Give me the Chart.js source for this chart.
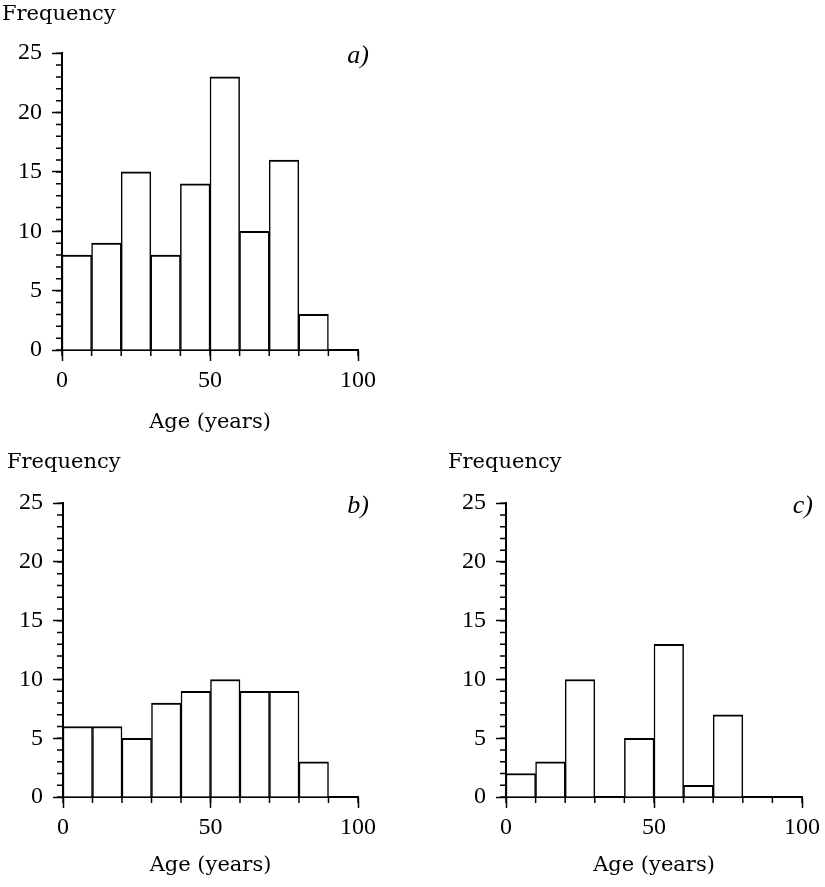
<!DOCTYPE html>
<html>
<head>
<meta charset="utf-8">
<script src="https://cdn.jsdelivr.net/npm/chart.js@4.4.1/dist/chart.umd.min.js"></script>
<style>
  body { margin: 0; background: #fff; }
  canvas { position: absolute; }
  #chartA { left: 0; top: 0; }
  #chartB { left: 0; top: 440px; }
  #chartC { left: 440px; top: 440px; }
</style>
</head>
<body>
<canvas id="chartA" width="412" height="440"></canvas>
<canvas id="chartB" width="412" height="447"></canvas>
<canvas id="chartC" width="385" height="447"></canvas>
<script>
// age bins, 10 years wide
const binStarts = [0, 10, 20, 30, 40, 50, 60, 70, 80, 90];
const countsA = [8, 9, 15, 8, 14, 23, 10, 16, 3, 0];
const countsB = [6, 6, 5, 8, 9, 10, 9, 9, 3, 0];
const countsC = [2, 3, 10, 0, 5, 13, 1, 7, 0, 0];
const xTicks = [0, 50, 100];
const yTicks = [0, 5, 10, 15, 20, 25];

const ink = '#000';
const tickFont = "'Liberation Serif', serif";
const labelFont = "'DejaVu Serif', serif";

Chart.defaults.color = ink;
Chart.defaults.animation = false;

// short ticks (every unit / every 10 years) and the panel letter
const extras = {
  id: 'extras',
  afterDraw(chart, args, opts) {
    const { ctx, chartArea, scales } = chart;
    ctx.save();
    ctx.strokeStyle = ink;
    ctx.lineWidth = 1.5;
    ctx.beginPath();
    for (let v = scales.y.min; v <= scales.y.max; v++) {
      const py = scales.y.getPixelForValue(v);
      ctx.moveTo(chartArea.left - 6, py);
      ctx.lineTo(chartArea.left, py);
    }
    for (let v = scales.x.min; v <= scales.x.max; v += 10) {
      const px = scales.x.getPixelForValue(v);
      ctx.moveTo(px, chartArea.bottom);
      ctx.lineTo(px, chartArea.bottom + 6);
    }
    ctx.stroke();
    ctx.font = "italic 26px 'Liberation Serif', serif";
    ctx.fillStyle = ink;
    ctx.textAlign = 'right';
    ctx.textBaseline = 'middle';
    ctx.fillText(opts.tag, chartArea.right + 11, chartArea.top + 3);
    ctx.restore();
  }
};

function makeHist(id, counts, tag, geo) {
  return new Chart(document.getElementById(id), {
    type: 'bar',
    data: {
      datasets: [{
        data: binStarts.map((b, i) => ({ x: b + 5, y: counts[i] })),
        backgroundColor: '#fff',
        borderColor: ink,
        borderWidth: { left: 1.5, right: 1.5, top: 2, bottom: 0 },
        borderSkipped: 'start',
        barPercentage: 1,
        categoryPercentage: 1
      }]
    },
    options: {
      responsive: false,
      layout: { padding: geo.pad },
      plugins: {
        legend: { display: false },
        tooltip: { enabled: false },
        title: {
          display: true,
          text: 'Frequency',
          align: 'start',
          color: ink,
          font: { family: labelFont, size: 21, weight: 'normal' },
          padding: geo.titlePad
        },
        extras: { tag: tag }
      },
      scales: {
        x: {
          type: 'linear',
          min: 0,
          max: 100,
          offset: false,
          afterBuildTicks: s => { s.ticks = xTicks.map(v => ({ value: v })); },
          afterFit: s => { s.height = 85; },
          grid: { drawOnChartArea: false, offset: false, tickLength: 11, tickColor: ink, tickWidth: 1.5 },
          border: { color: ink, width: 2 },
          ticks: { font: { family: tickFont, size: 24 }, padding: 5, maxRotation: 0 },
          title: {
            display: true,
            text: 'Age (years)',
            font: { family: labelFont, size: 21 },
            padding: { top: 0, bottom: geo.xTitlePad }
          }
        },
        y: {
          min: 0,
          max: 25,
          afterBuildTicks: s => { s.ticks = yTicks.map(v => ({ value: v })); },
          afterFit: s => { s.width = geo.yWidth; },
          grid: { drawOnChartArea: false, tickLength: 10, tickColor: ink, tickWidth: 1.5 },
          border: { color: ink, width: 2 },
          ticks: { font: { family: tickFont, size: 24 }, padding: 10 }
        }
      }
    },
    plugins: [extras]
  });
}

makeHist('chartA', countsA, 'a)', {
  pad: { left: 2, right: 54, top: 0, bottom: 5 },
  titlePad: { top: 2, bottom: 26 },
  xTitlePad: 0,
  yWidth: 60
});
makeHist('chartB', countsB, 'b)', {
  pad: { left: 7, right: 54, top: 0, bottom: 5 },
  titlePad: { top: 10, bottom: 28 },
  xTitlePad: 4,
  yWidth: 56
});
makeHist('chartC', countsC, 'c)', {
  pad: { left: 8, right: 22, top: 0, bottom: 5 },
  titlePad: { top: 10, bottom: 28 },
  xTitlePad: 4,
  yWidth: 58
});
</script>
</body>
</html>
